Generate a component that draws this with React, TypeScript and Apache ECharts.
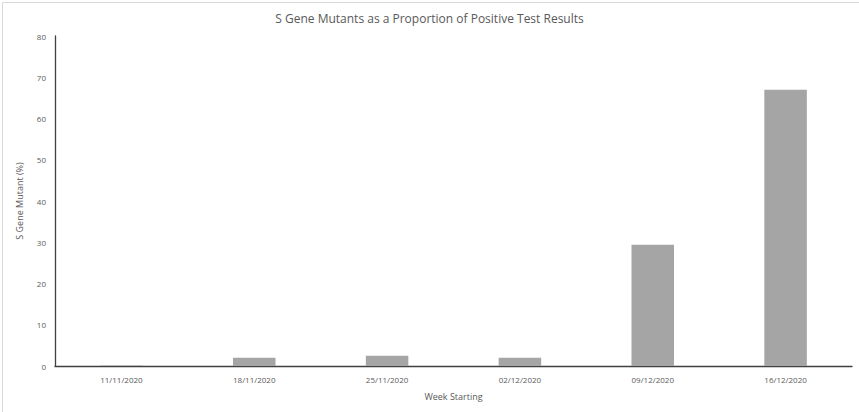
import React, { useEffect, useRef } from "react";
import * as echarts from "echarts";

const categories = ["11/11/2020", "18/11/2020", "25/11/2020", "02/12/2020", "09/12/2020", "16/12/2020"];
const mutantPercent = [0.1, 2.0, 2.5, 2.0, 29.4, 67.0];
const titleText = "S Gene Mutants as a Proportion of Positive Test Results";
const yAxisName = "S Gene Mutant (%)";
const xAxisName = "Week Starting";

export default function App() {
  const ref = useRef<HTMLDivElement>(null);
  useEffect(() => {
    document.body.style.margin = "0";
    const chart = echarts.init(ref.current!, null, { renderer: "svg" });
    const font = "'Open Sans', 'Noto Sans', sans-serif";
    chart.setOption({
      animation: false,
      backgroundColor: "#ffffff",
      textStyle: { fontFamily: font },
      title: {
        text: titleText,
        left: "center",
        top: 7,
        textStyle: { fontFamily: font, fontSize: 12, fontWeight: "normal", color: "#595959" },
      },
      graphic: [
        {
          type: "rect",
          left: 0,
          top: 0,
          shape: { width: 858, height: 411 },
          style: { fill: "none", stroke: "#d9d9d9", lineWidth: 1 },
          silent: true,
        },
      ],
      grid: { left: 55, right: 7, top: 36, bottom: 46 },
      xAxis: {
        type: "category",
        data: categories,
        name: xAxisName,
        nameLocation: "middle",
        nameGap: 26,
        nameTextStyle: { color: "#595959", fontSize: 9, fontFamily: font },
        axisLine: { lineStyle: { color: "#404040", width: 1.3 } },
        axisTick: { show: false },
        axisLabel: { color: "#595959", fontSize: 8, margin: 9, fontFamily: font },
      },
      yAxis: {
        type: "value",
        min: 0,
        max: 80,
        interval: 10,
        name: yAxisName,
        nameLocation: "middle",
        nameGap: 31,
        nameTextStyle: { color: "#595959", fontSize: 9, fontFamily: font },
        axisLine: { show: true, lineStyle: { color: "#404040", width: 1.3 } },
        axisTick: { show: false },
        splitLine: { show: false },
        axisLabel: { color: "#595959", fontSize: 8, margin: 9, fontFamily: font },
      },
      series: [
        {
          type: "bar",
          data: mutantPercent,
          barWidth: "32%",
          itemStyle: { color: "#a5a5a5" },
        },
      ],
    });
    return () => chart.dispose();
  }, []);
  return <div ref={ref} style={{ width: 859, height: 412, position: "absolute", left: 0, top: 0 }} />;
}
